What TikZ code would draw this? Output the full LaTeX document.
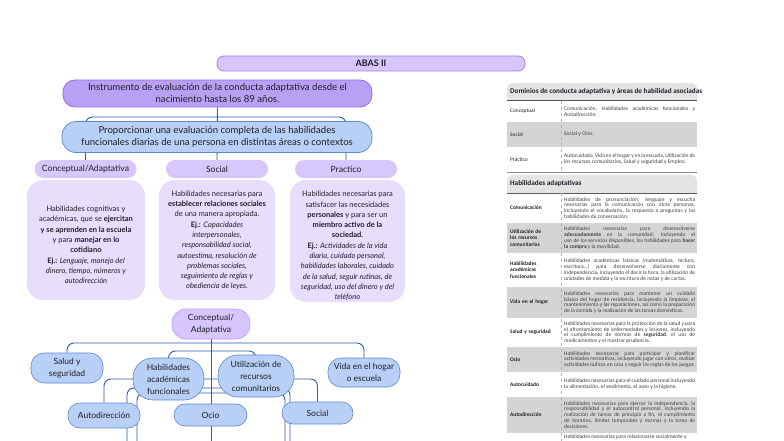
\documentclass[tikz,border=0pt]{standalone}
\usepackage{fontspec}
\setmainfont{Lato}
\newfontfamily\tabfont{Carlito}
\usetikzlibrary{backgrounds}
\newcommand\nohyphens{\hyphenpenalty 10000 \exhyphenpenalty 10000 }
\definecolor{conncol}{RGB}{47,92,166}
\definecolor{titleF}{RGB}{214,198,252}
\definecolor{titleB}{RGB}{164,124,240}
\definecolor{darkF}{RGB}{184,160,245}
\definecolor{darkB}{RGB}{150,108,236}
\definecolor{headF}{RGB}{214,200,251}
\definecolor{descF}{RGB}{231,221,253}
\definecolor{blueF}{RGB}{184,208,246}
\definecolor{blueB}{RGB}{96,136,204}
\definecolor{rowG}{RGB}{212,212,212}
\definecolor{headG}{RGB}{228,228,228}
\definecolor{txt}{RGB}{30,30,40}
\begin{document}
\begin{tikzpicture}[x=1pt,y=-1pt,
  conn/.style={draw=conncol,line width=0.9pt,rounded corners=7pt},
  box/.style={inner sep=0pt,align=center,text=txt},
  titlebar/.style={box,draw=titleB,fill=titleF,line width=0.8pt,rounded corners=7pt,minimum width=308pt,minimum height=15pt,font=\fontsize{9}{11}\selectfont\bfseries},
  darkbox/.style={box,draw=darkB,fill=darkF,line width=0.8pt,rounded corners=12pt,minimum width=309pt,minimum height=27pt,font=\fontsize{9.6}{12}\selectfont},
  bluewide/.style={box,draw=blueB,fill=blueF,line width=0.7pt,rounded corners=14pt,minimum width=310pt,minimum height=31pt,font=\fontsize{9.6}{12.3}\selectfont},
  headbox/.style={box,fill=headF,rounded corners=9pt,minimum width=102pt,minimum height=18pt,font=\fontsize{8.6}{10}\selectfont},
  descbox/.style={box,fill=descF,rounded corners=16pt,minimum height=120pt},
  desctext/.style={box,font=\fontsize{7.5}{10.3}\selectfont},
  purplenode/.style={box,draw={rgb,255:red,190;green,162;blue,246},fill=titleF,line width=0.6pt,rounded corners=14pt,minimum width=78pt,minimum height=30pt,font=\fontsize{8.5}{11.7}\selectfont},
  bluenode/.style={box,draw=blueB,fill=blueF,line width=0.6pt,rounded corners=13pt,minimum width=72pt,minimum height=30pt,font=\fontsize{8.5}{12}\selectfont},
  rowlab/.style={inner sep=0pt,anchor=west,align=left,text width=50pt,text=txt,font=\tabfont\fontsize{5.4}{6.2}\selectfont},
  rowlabb/.style={rowlab,font=\tabfont\fontsize{5.4}{6.2}\selectfont\bfseries},
  rowtxt/.style={inner sep=0pt,anchor=west,align=justify,text width=131pt,text=black!75,font=\tabfont\fontsize{5.5}{5.9}\selectfont\nohyphens},
  tabhead/.style={inner sep=0pt,anchor=west,text=txt,font=\tabfont\fontsize{7.2}{8}\selectfont\bfseries}
]
\useasboundingbox (0,0) rectangle (784,441);
\clip (0,0) rectangle (784,441);
\begin{scope}[on background layer]
  \fill[white] (0,0) rectangle (784,441);
\end{scope}

% ---------- top part ----------
\node[titlebar] (title) at (371,63.5) {ABAS II};
\node[darkbox] (b1) at (217.5,93.5) {Instrumento de evaluación de la conducta adaptativa desde el\\nacimiento hasta los 89 años.};
\node[bluewide] (b2) at (217,137) {Proporcionar una evaluación completa de las habilidades\\funcionales diarias de una persona en distintas áreas o contextos};

\node[headbox] (h1) at (85.5,169) {Conceptual/Adaptativa};
\node[headbox] (h2) at (217,169) {Social};
\node[headbox] (h3) at (346,169) {Practico};

\node[descbox,minimum width=118pt] (d1) at (86,240) {};
\node[descbox,minimum width=116pt] (d2) at (217,240) {};
\node[descbox,minimum width=115pt,minimum height=122pt] (d3) at (347.5,241) {};
\node[desctext] (d1t) at (86,245) {Habilidades cognitivas y\\académicas, que se \textbf{ejercitan}\\\textbf{y se aprenden en la escuela}\\y para \textbf{manejar en lo}\\\textbf{cotidiano}\\\textbf{Ej.:} \textit{Lenguaje, manejo del}\\\textit{dinero, tiempo, números y}\\\textit{autodirección}};
\node[desctext] (d2t) at (217,240.5) {Habilidades necesarias para\\\textbf{establecer relaciones sociales}\\de una manera apropiada.\\\textbf{Ej.:} \textit{Capacidades}\\\textit{interpersonales,}\\\textit{responsabilidad social,}\\\textit{autoestima, resolución de}\\\textit{problemas sociales,}\\\textit{seguimiento de reglas y}\\\textit{obediencia de leyes.}};
\node[desctext] (d3t) at (347.5,246) {Habilidades necesarias para\\satisfacer las necesidades\\\textbf{personales} y para ser un\\\textbf{miembro activo de la}\\\textbf{sociedad.}\\\textbf{Ej.:} \textit{Actividades de la vida}\\\textit{diaria, cuidado personal,}\\\textit{habilidades laborales, cuidado}\\\textit{de la salud, seguir rutinas, de}\\\textit{seguridad, uso del dinero y del}\\\textit{teléfono}};

\coordinate (j0) at (217,117);
\begin{scope}[on background layer]
  \draw[conn] (b1.south) -- (h2.north);
  \draw[conn] (j0) -| (h1.north);
  \draw[conn] (j0) -| (h3.north);
\end{scope}

% ---------- bottom tree ----------
\node[purplenode] (ca) at (211,324) {Conceptual/\\Adaptativa};
\node[bluenode] (salud) at (67,368) {Salud y\\seguridad};
\node[bluenode,minimum width=71pt,minimum height=42pt,rounded corners=20pt] (hab) at (168.5,379) {Habilidades\\académicas\\funcionales};
\node[bluenode,minimum width=76pt,minimum height=42pt,rounded corners=20pt] (util) at (256,376) {Utilización de\\recursos\\comunitarios};
\node[bluenode,minimum height=29pt] (vida) at (364,372.5) {Vida en el hogar\\o escuela};
\node[bluenode,minimum height=25pt,rounded corners=12pt] (auto) at (104,415.5) {Autodirección};
\node[bluenode,minimum width=73pt,minimum height=22pt,rounded corners=11pt] (ocio) at (210.5,415) {Ocio};
\node[bluenode,minimum width=71pt,minimum height=22pt,rounded corners=11pt] (soc) at (317.5,413) {Social};

\coordinate (t0) at (211,343);
\coordinate (t1) at (211,351);
\coordinate (t2) at (211,379);
\coordinate (t3) at (211,388);
\coordinate (t4) at (211,393);
\coordinate (tb) at (211,450);
\coordinate (e1) at (127,450);
\coordinate (e2) at (137,450);
\coordinate (e3) at (285,450);
\coordinate (e4) at (290,450);
\begin{scope}[on background layer]
  \draw[conn] (ca.south) -- (tb);
  \draw[conn] (t0) -| (salud.north);
  \draw[conn] (t0) -| (vida.north);
  \draw[conn] (t1) -| (hab.north);
  \draw[conn] (t1) -| (util.north);
  \draw[conn] (t2) -| (auto.north);
  \draw[conn] (t2) -| (soc.north);
  \draw[conn] (t3) -| (e1);
  \draw[conn] (t4) -| (e2);
  \draw[conn] (t4) -| (e3);
  \draw[conn] (t3) -| (e4);
\end{scope}

% ---------- right tables ----------
% table 1
\fill[headG,rounded corners=6pt] (507,83) rectangle (697,104);
\fill[headG] (507,95) rectangle (697,101);
\fill[white] (507,101) rectangle (697,122);
\fill[rowG] (507,122) rectangle (697,147);
\fill[white] (507,147) rectangle (697,172);
\draw[black!65,line width=1pt] (507,101) -- (697,101);
\draw[black!45,line width=0.8pt] (507,172) -- (697,172);
\draw[black!30,dashed,line width=0.3pt] (561,101) -- (561,172);
\node[tabhead] (th1) at (510,91.5) {Dominios de conducta adaptativa y áreas de habilidad asociadas};
\node[rowlab] (l1) at (510,111.5) {Conceptual};
\node[rowtxt] (r1) at (564,111.5) {Comunicación, Habilidades académicas funcionales y Autodirección.};
\node[rowlab] (l2) at (510,134.5) {Social};
\node[rowtxt] (r2) at (564,134.5) {Social y Ocio.};
\node[rowlab] (l3) at (510,159.5) {Práctico};
\node[rowtxt] (r3) at (564,159.5) {Autocuidado, Vida en el hogar y en la escuela, Utilización de los recursos comunitarios, Salud y seguridad y Empleo.};

% table 2
\fill[headG,rounded corners=6pt] (507,175) rectangle (697,196);
\fill[headG] (507,188) rectangle (697,193);
\fill[white] (507,193) rectangle (697,223);
\fill[rowG] (507,223) rectangle (697,253);
\fill[white] (507,253) rectangle (697,287);
\fill[rowG] (507,287) rectangle (697,318);
\fill[white] (507,318) rectangle (697,347);
\fill[rowG] (507,347) rectangle (697,372);
\fill[white] (507,372) rectangle (697,397);
\fill[rowG] (507,397) rectangle (697,433);
\fill[white] (507,433) rectangle (697,460);
\draw[black!65,line width=1pt] (507,193) -- (697,193);
\draw[black!30,dashed,line width=0.3pt] (561,193) -- (561,460);
\node[tabhead] (th2) at (510,184) {Habilidades adaptativas};

\node[rowlabb] (a1) at (510,208) {Comunicación};
\node[rowtxt] (s1) at (564,208) {Habilidades de pronunciación, lenguaje y escucha necesarias para la comunicación con otras personas, incluyendo el vocabulario, la respuesta a preguntas y las habilidades de conversación.};
\node[rowlabb] (a2) at (510,238) {Utilización de\\los recursos\\comunitarios};
\node[rowtxt] (s2) at (564,238) {Habilidades necesarias para desenvolverse \textbf{adecuadamente} en la comunidad, incluyendo el uso de los servicios disponibles, las habilidades para \textbf{hacer la compra} y la movilidad.};
\node[rowlabb] (a3) at (510,270) {Habilidades\\académicas\\funcionales};
\node[rowtxt] (s3) at (564,270) {Habilidades académicas básicas (matemáticas, lectura, escritura\ldots) para desenvolverse diariamente con independencia, incluyendo el decir la hora, la utilización de unidades de medida y la escritura de notas y de cartas.};
\node[rowlabb] (a4) at (510,302.5) {Vida en el hogar};
\node[rowtxt] (s4) at (564,302.5) {Habilidades necesarias para mantener un cuidado básico del hogar de residencia, incluyendo la limpieza, el mantenimiento y las reparaciones, así como la preparación de la comida y la realización de las tareas domésticas.};
\node[rowlabb] (a5) at (510,332.5) {Salud y seguridad};
\node[rowtxt] (s5) at (564,332.5) {Habilidades necesarias para la protección de la salud y para el afrontamiento de enfermedades y lesiones, incluyendo el cumplimiento de normas de \textbf{seguridad}, el uso de medicamentos y el mostrar prudencia.};
\node[rowlabb] (a6) at (510,359.5) {Ocio};
\node[rowtxt] (s6) at (564,359.5) {Habilidades necesarias para participar y planificar actividades recreativas, incluyendo jugar con otros, realizar actividades lúdicas en casa y seguir las reglas de los juegos.};
\node[rowlabb] (a7) at (510,384.5) {Autocuidado};
\node[rowtxt] (s7) at (564,384.5) {Habilidades necesarias para el cuidado personal incluyendo la alimentación, el vestimenta, el aseo y la higiene.};
\node[rowlabb] (a8) at (510,415) {Autodirección};
\node[rowtxt] (s8) at (564,415) {Habilidades necesarias para ejercer la independencia, la responsabilidad y el autocontrol personal, incluyendo la realización de tareas de principio a fin, el cumplimiento de horarios, límites temporales y normas y la toma de decisiones.};
\node[rowtxt,anchor=north west] (s9) at (564,434.2) {Habilidades necesarias para relacionarse socialmente y};
\end{tikzpicture}
\end{document}
